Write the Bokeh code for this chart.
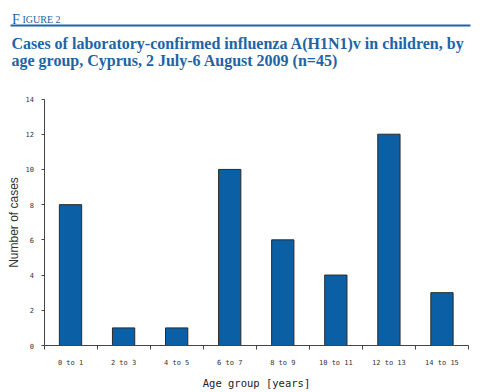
from bokeh.plotting import figure
from bokeh.models import Range1d, FixedTicker, ColumnDataSource, Label, BoxAnnotation
from bokeh.embed import file_html
from bokeh.resources import INLINE

# ---- data ----
age_groups = ["0 to 1", "2 to 3", "4 to 5", "6 to 7", "8 to 9", "10 to 11", "12 to 13", "14 to 15"]
cases = [8, 1, 1, 10, 6, 4, 12, 3]
y_ticks = [0, 2, 4, 6, 8, 10, 12, 14]
y_max = 14

fig_label = "F"
fig_label_rest = "IGURE 2"
title_line1 = "Cases of laboratory-confirmed influenza A(H1N1)v in children, by"
title_line2 = "age group, Cyprus, 2 July-6 August 2009 (n=45)"

BLUE_T = "#2064a6"
BAR = "#0b5fa5"
AX = "#444444"

# ---- layout (figure pixels) ----
W, H = 490, 390
n = len(age_groups)
X0_PX, X1_PX = 43.5, 468.0      # pixel span of the category axis
Y0_PX, Y1_PX = 345.0, 98.5      # pixel span of the value axis
PXX = (X1_PX - X0_PX) / n
PXY = (Y0_PX - Y1_PX) / y_max

fx = lambda px: (px - X0_PX) / PXX
fy = lambda py: (Y0_PX - py) / PXY

src = ColumnDataSource(dict(x=[i + 0.5 for i in range(n)], top=cases, label=age_groups))

p = figure(width=W, height=H, x_range=Range1d(fx(0), fx(W)), y_range=Range1d(fy(H), fy(0)),
           toolbar_location=None, output_backend="svg", min_border=0,
           outline_line_color=None)
p.grid.visible = False
p.vbar(x="x", top="top", width=0.42, bottom=0, source=src,
       fill_color=BAR, line_color="#2a2a2a", line_width=1)

xa = p.xaxis[0]
xa.fixed_location = 0
xa.bounds = (0, n)
xa.ticker = FixedTicker(ticks=[i + 0.5 for i in range(n)], minor_ticks=list(range(n + 1)))
xa.major_label_overrides = {i + 0.5: lab for i, lab in enumerate(age_groups)}
xa.major_tick_line_color = None
xa.major_tick_out = 0
xa.major_tick_in = 0
xa.minor_tick_out = 4
xa.minor_tick_in = 0
xa.minor_tick_line_color = AX
xa.axis_line_color = AX
xa.major_label_standoff = 9
xa.major_label_text_font = "DejaVu Sans Mono"
xa.major_label_text_font_size = "7px"
xa.major_label_text_color = "#333333"
xa.axis_label = "Age group [years]"
xa.axis_label_text_font = "DejaVu Sans Mono"
xa.axis_label_text_font_size = "10.5px"
xa.axis_label_text_font_style = "normal"
xa.axis_label_text_color = "#222222"
xa.axis_label_standoff = 7

ya = p.yaxis[0]
ya.fixed_location = 0
ya.bounds = (0, y_max)
ya.ticker = FixedTicker(ticks=y_ticks)
ya.major_tick_out = 3
ya.major_tick_in = 0
ya.minor_tick_line_color = None
ya.major_tick_line_color = AX
ya.axis_line_color = AX
ya.major_label_standoff = 7
ya.major_label_text_font = "DejaVu Sans Mono"
ya.major_label_text_font_size = "7px"
ya.major_label_text_color = "#333333"
ya.axis_label = "Number of cases"
ya.axis_label_text_font = "Liberation Sans"
ya.axis_label_text_font_size = "12px"
ya.axis_label_text_font_style = "normal"
ya.axis_label_text_color = "#333333"
ya.axis_label_standoff = 2

# ---- header ----
p.add_layout(Label(x=fx(11.5), y=fy(19), text=fig_label,
                   text_font="Liberation Serif", text_font_size="14px",
                   text_color=BLUE_T, text_baseline="alphabetic"))
p.add_layout(Label(x=fx(22), y=fy(19), text=fig_label_rest,
                   text_font="Liberation Serif", text_font_size="10px",
                   text_color=BLUE_T, text_baseline="alphabetic"))
p.add_layout(BoxAnnotation(left=fx(10), right=fx(470), bottom=fy(26), top=fy(24),
                           fill_color=BLUE_T, fill_alpha=1, line_color=None))
p.add_layout(Label(x=fx(11), y=fy(43), text=title_line1,
                   text_font="Liberation Serif", text_font_style="bold", text_font_size="16px",
                   text_color=BLUE_T, text_baseline="alphabetic"))
p.add_layout(Label(x=fx(11), y=fy(60), text=title_line2,
                   text_font="Liberation Serif", text_font_style="bold", text_font_size="16px",
                   text_color=BLUE_T, text_baseline="alphabetic"))

open("out.html", "w").write(file_html(p, INLINE))
